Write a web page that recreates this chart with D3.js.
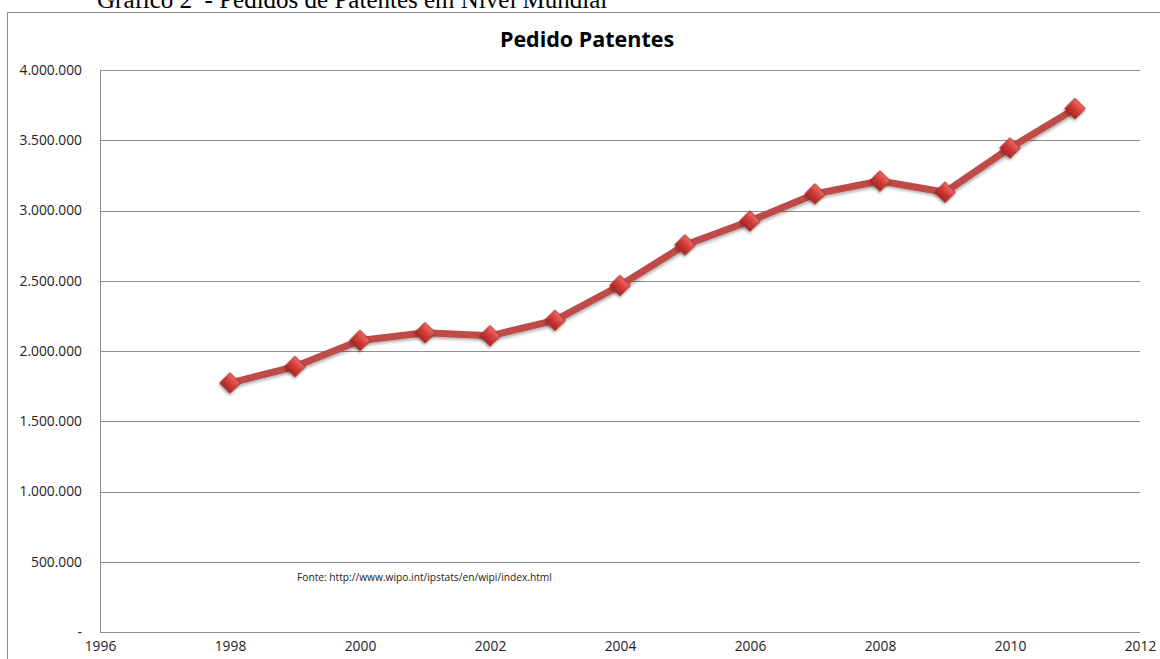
<!DOCTYPE html>
<html>
<head>
<meta charset="utf-8">
<script src="https://cdn.jsdelivr.net/npm/d3@7"></script>
<style>
  html, body { margin: 0; padding: 0; background: #fff; }
  svg { display: block; }
</style>
</head>
<body>
<svg id="chart" width="1160" height="659"></svg>
<script>
// Pedidos de patentes em nível mundial, 1998–2011
const years = [1998, 1999, 2000, 2001, 2002, 2003, 2004, 2005, 2006, 2007, 2008, 2009, 2010, 2011];
const pedidos = [1772000, 1889000, 2075000, 2130000, 2108000, 2218000, 2466000, 2755000, 2925000, 3118000, 3210000, 3130000, 3445000, 3725000];
const yTicks = [0, 500000, 1000000, 1500000, 2000000, 2500000, 3000000, 3500000, 4000000];
const xTicks = [1996, 1998, 2000, 2002, 2004, 2006, 2008, 2010, 2012];

const captionText = "Gráfico 2  - Pedidos de Patentes em Nível Mundial";
const chartTitle = "Pedido Patentes";
const sourceText = "Fonte: http://www.wipo.int/ipstats/en/wipi/index.html";

const svg = d3.select("#chart");
const W = 1160, H = 659;
const plot = { left: 100, right: 1140, top: 70, bottom: 632 };

const x = d3.scaleLinear().domain([1996, 2012]).range([plot.left, plot.right]);
const y = d3.scaleLinear().domain([0, 4000000]).range([plot.bottom, plot.top]);

const ptBR = d3.formatLocale({ decimal: ",", thousands: ".", grouping: [3], currency: ["R$", ""] });
const fmt = ptBR.format(",.0f");

// defs: marker gradient and soft shadow
const defs = svg.append("defs");
const grad = defs.append("linearGradient").attr("id", "mk").attr("x1", 0).attr("y1", 0).attr("x2", 0).attr("y2", 1);
grad.append("stop").attr("offset", "0%").attr("stop-color", "#ef6a66");
grad.append("stop").attr("offset", "50%").attr("stop-color", "#d23b38");
grad.append("stop").attr("offset", "100%").attr("stop-color", "#a82624");
const sh = defs.append("filter").attr("id", "shadow").attr("x", "-20%").attr("y", "-20%").attr("width", "140%").attr("height", "140%");
sh.append("feDropShadow").attr("dx", 1).attr("dy", 2).attr("stdDeviation", 1.5).attr("flood-color", "#000").attr("flood-opacity", 0.3);

// caption above the chart frame
svg.append("text")
  .attr("x", 97).attr("y", 8)
  .attr("xml:space", "preserve")
  .style("font-family", "'Liberation Serif', 'Times New Roman', serif")
  .style("font-size", "25px")
  .attr("fill", "#000")
  .text(captionText);

// outer frame (left and top edges)
svg.append("path")
  .attr("d", `M7.5,${H} V12.5 H${W}`)
  .attr("fill", "none").attr("stroke", "#8c8c8c").attr("stroke-width", 1);

// chart title
svg.append("text")
  .attr("x", 587).attr("y", 47)
  .attr("text-anchor", "middle")
  .style("font-family", "'Open Sans', 'Liberation Sans', sans-serif")
  .style("font-weight", "bold")
  .style("font-size", "21.5px")
  .attr("fill", "#000")
  .text(chartTitle);

// horizontal gridlines
svg.append("g").selectAll("line").data(yTicks).join("line")
  .attr("x1", plot.left).attr("x2", plot.right)
  .attr("y1", d => Math.round(y(d)) + 0.5).attr("y2", d => Math.round(y(d)) + 0.5)
  .attr("stroke", "#8f8f8f").attr("stroke-width", 1);

// vertical axis line
svg.append("line")
  .attr("x1", plot.left + 0.5).attr("x2", plot.left + 0.5)
  .attr("y1", plot.top).attr("y2", plot.bottom + 0.5)
  .attr("stroke", "#8f8f8f").attr("stroke-width", 1);

// y axis labels
const yAxis = d3.axisLeft(y).tickValues(yTicks).tickSize(0).tickPadding(18)
  .tickFormat(d => d === 0 ? "-" : fmt(d));
const gy = svg.append("g").attr("transform", `translate(${plot.left},0)`).call(yAxis);
gy.select(".domain").remove();
gy.selectAll("text")
  .style("font-family", "'Open Sans', 'Liberation Sans', sans-serif")
  .style("font-size", "13.8px")
  .attr("fill", "#222");

// x axis labels
const xAxis = d3.axisBottom(x).tickValues(xTicks).tickSize(0).tickPadding(9).tickFormat(d3.format("d"));
const gx = svg.append("g").attr("transform", `translate(0,${plot.bottom})`).call(xAxis);
gx.select(".domain").remove();
gx.selectAll("text")
  .style("font-family", "'Open Sans', 'Liberation Sans', sans-serif")
  .style("font-size", "13.8px")
  .attr("fill", "#222");

// source note inside plot
svg.append("text")
  .attr("x", 297).attr("y", 581)
  .style("font-family", "'Open Sans', 'Liberation Sans', sans-serif")
  .style("font-size", "10.2px")
  .attr("fill", "#222")
  .text(sourceText);

const data = years.map((yr, i) => ({ yr, v: pedidos[i] }));

// series line
svg.append("path")
  .datum(data)
  .attr("d", d3.line().x(d => x(d.yr)).y(d => y(d.v)))
  .attr("fill", "none")
  .attr("stroke", "#bf4b48")
  .attr("stroke-width", 7)
  .attr("stroke-linejoin", "round")
  .attr("filter", "url(#shadow)");

// diamond markers
svg.append("g").selectAll("path").data(data).join("path")
  .attr("transform", d => `translate(${x(d.yr)},${y(d.v)}) rotate(45)`)
  .attr("d", d3.symbol(d3.symbolSquare, 210)())
  .attr("fill", "url(#mk)")
  .attr("stroke", "#9c2a28")
  .attr("stroke-width", 0.8)
  .attr("filter", "url(#shadow)");
</script>
</body>
</html>
